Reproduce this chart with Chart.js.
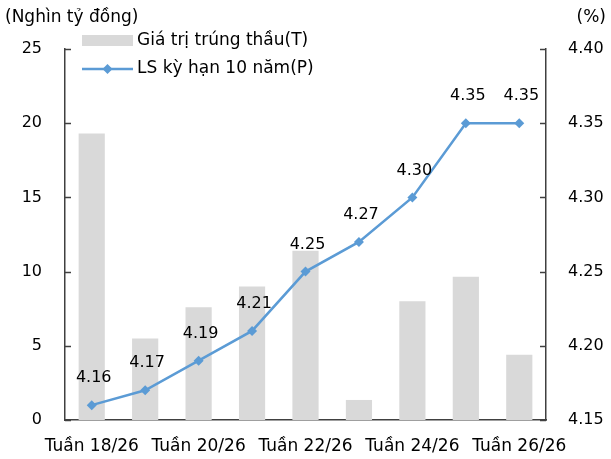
<!DOCTYPE html>
<html>
<head>
<meta charset="utf-8">
<script src="https://cdn.jsdelivr.net/npm/chart.js@4.4.0/dist/chart.umd.min.js"></script>
<style>
  html, body { margin: 0; padding: 0; background: #fff; }
  canvas { display: block; }
</style>
</head>
<body>
<canvas id="chart" width="611" height="459"></canvas>
<script>
// Data
const weeks = ['Tuần 18/26', 'Tuần 19/26', 'Tuần 20/26', 'Tuần 21/26', 'Tuần 22/26',
               'Tuần 23/26', 'Tuần 24/26', 'Tuần 25/26', 'Tuần 26/26'];
const bidValues = [19.3, 5.5, 7.6, 9.0, 11.4, 1.35, 8.0, 9.65, 4.4];
const yield10y = [4.16, 4.17, 4.19, 4.21, 4.25, 4.27, 4.30, 4.35, 4.35];
const leftTicks = [0, 5, 10, 15, 20, 25];
const rightTicks = [4.15, 4.20, 4.25, 4.30, 4.35, 4.40];

const FONT = '"DejaVu Sans", Verdana, sans-serif';
const barColor = '#d9d9d9';
const lineColor = '#5b9bd5';
const axisColor = '#404040';

// Point value labels above the line
const valueLabels = {
  id: 'valueLabels',
  afterDatasetsDraw(chart) {
    const ctx = chart.ctx;
    const meta = chart.getDatasetMeta(1);
    ctx.save();
    ctx.font = '16px ' + FONT;
    ctx.fillStyle = '#000';
    ctx.textAlign = 'center';
    ctx.textBaseline = 'bottom';
    meta.data.forEach((pt, i) => {
      ctx.fillText(yield10y[i].toFixed(2), pt.x + 2, pt.y - 19);
    });
    ctx.restore();
  }
};

// Tick marks pointing into the plot (Excel style)
const innerTicks = {
  id: 'innerTicks',
  afterDraw(chart) {
    const ctx = chart.ctx;
    const area = chart.chartArea;
    ctx.save();
    ctx.strokeStyle = axisColor;
    ctx.lineWidth = 1.5;
    ['y', 'y1'].forEach(id => {
      const s = chart.scales[id];
      const x0 = id === 'y' ? area.left : area.right;
      const dir = id === 'y' ? 1 : -1;
      s.ticks.forEach(t => {
        const py = Math.round(s.getPixelForValue(t.value)) + 0.5;
        ctx.beginPath();
        ctx.moveTo(x0, py);
        ctx.lineTo(x0 + dir * 6, py);
        ctx.stroke();
      });
    });
    ctx.restore();
  }
};

// Axis titles + legend drawn inside the plot like the original
const extras = {
  id: 'extras',
  afterDraw(chart) {
    const ctx = chart.ctx;
    ctx.save();
    ctx.font = '17px ' + FONT;
    ctx.fillStyle = '#000';
    ctx.textBaseline = 'middle';
    ctx.textAlign = 'left';
    ctx.fillText('(Nghìn tỷ đồng)', 5, 18);
    ctx.textAlign = 'right';
    ctx.fillText('(%)', 606, 18);

    // legend
    ctx.textAlign = 'left';
    ctx.fillStyle = barColor;
    ctx.fillRect(82, 35, 51, 11);
    ctx.fillStyle = '#000';
    ctx.fillText(chart.data.datasets[0].label, 137, 41);

    ctx.strokeStyle = lineColor;
    ctx.lineWidth = 2.5;
    ctx.beginPath();
    ctx.moveTo(82, 69);
    ctx.lineTo(133, 69);
    ctx.stroke();
    ctx.fillStyle = lineColor;
    ctx.beginPath();
    ctx.moveTo(107.5, 64);
    ctx.lineTo(112.5, 69);
    ctx.lineTo(107.5, 74);
    ctx.lineTo(102.5, 69);
    ctx.closePath();
    ctx.fill();
    ctx.fillStyle = '#000';
    ctx.fillText(chart.data.datasets[1].label, 137, 69);
    ctx.restore();
  }
};

const ctx = document.getElementById('chart').getContext('2d');
new Chart(ctx, {
  data: {
    labels: weeks,
    datasets: [
      {
        type: 'bar',
        label: 'Giá trị trúng thầu(T)',
        data: bidValues,
        backgroundColor: barColor,
        yAxisID: 'y',
        categoryPercentage: 1,
        barPercentage: 0.49,
        order: 2
      },
      {
        type: 'line',
        label: 'LS kỳ hạn 10 năm(P)',
        data: yield10y,
        borderColor: lineColor,
        backgroundColor: lineColor,
        borderWidth: 2.5,
        pointStyle: 'rectRot',
        pointRadius: 5,
        pointBorderWidth: 0,
        tension: 0,
        yAxisID: 'y1',
        order: 1
      }
    ]
  },
  options: {
    responsive: false,
    animation: false,
    events: [],
    layout: { padding: { top: 49, left: 0, right: 0, bottom: 0 } },
    plugins: {
      legend: { display: false },
      tooltip: { enabled: false }
    },
    scales: {
      x: {
        grid: { display: false, drawTicks: false },
        border: { display: true, color: axisColor, width: 1.5 },
        ticks: {
          autoSkip: false,
          maxRotation: 0,
          padding: 16,
          color: '#000',
          font: { family: FONT, size: 17 },
          callback: (v, i) => (i % 2 === 0 ? weeks[i] : '')
        },
        afterFit: (s) => { s.height = 39; }
      },
      y: {
        position: 'left',
        min: 0,
        max: 25,
        afterBuildTicks: (s) => { s.ticks = leftTicks.map(v => ({ value: v })); },
        grid: { display: false, drawTicks: false },
        border: { display: true, color: axisColor, width: 1.5 },
        ticks: { padding: 23, color: '#000', font: { family: FONT, size: 16 } },
        afterFit: (s) => { s.width = 65; }
      },
      y1: {
        position: 'right',
        min: 4.15,
        max: 4.40,
        afterBuildTicks: (s) => { s.ticks = rightTicks.map(v => ({ value: v })); },
        grid: { display: false, drawTicks: false },
        border: { display: true, color: axisColor, width: 1.5 },
        ticks: {
          padding: 22,
          color: '#000',
          font: { family: FONT, size: 16 },
          callback: (v) => Number(v).toFixed(2)
        },
        afterFit: (s) => { s.width = 65; }
      }
    }
  },
  plugins: [valueLabels, innerTicks, extras]
});
</script>
</body>
</html>
